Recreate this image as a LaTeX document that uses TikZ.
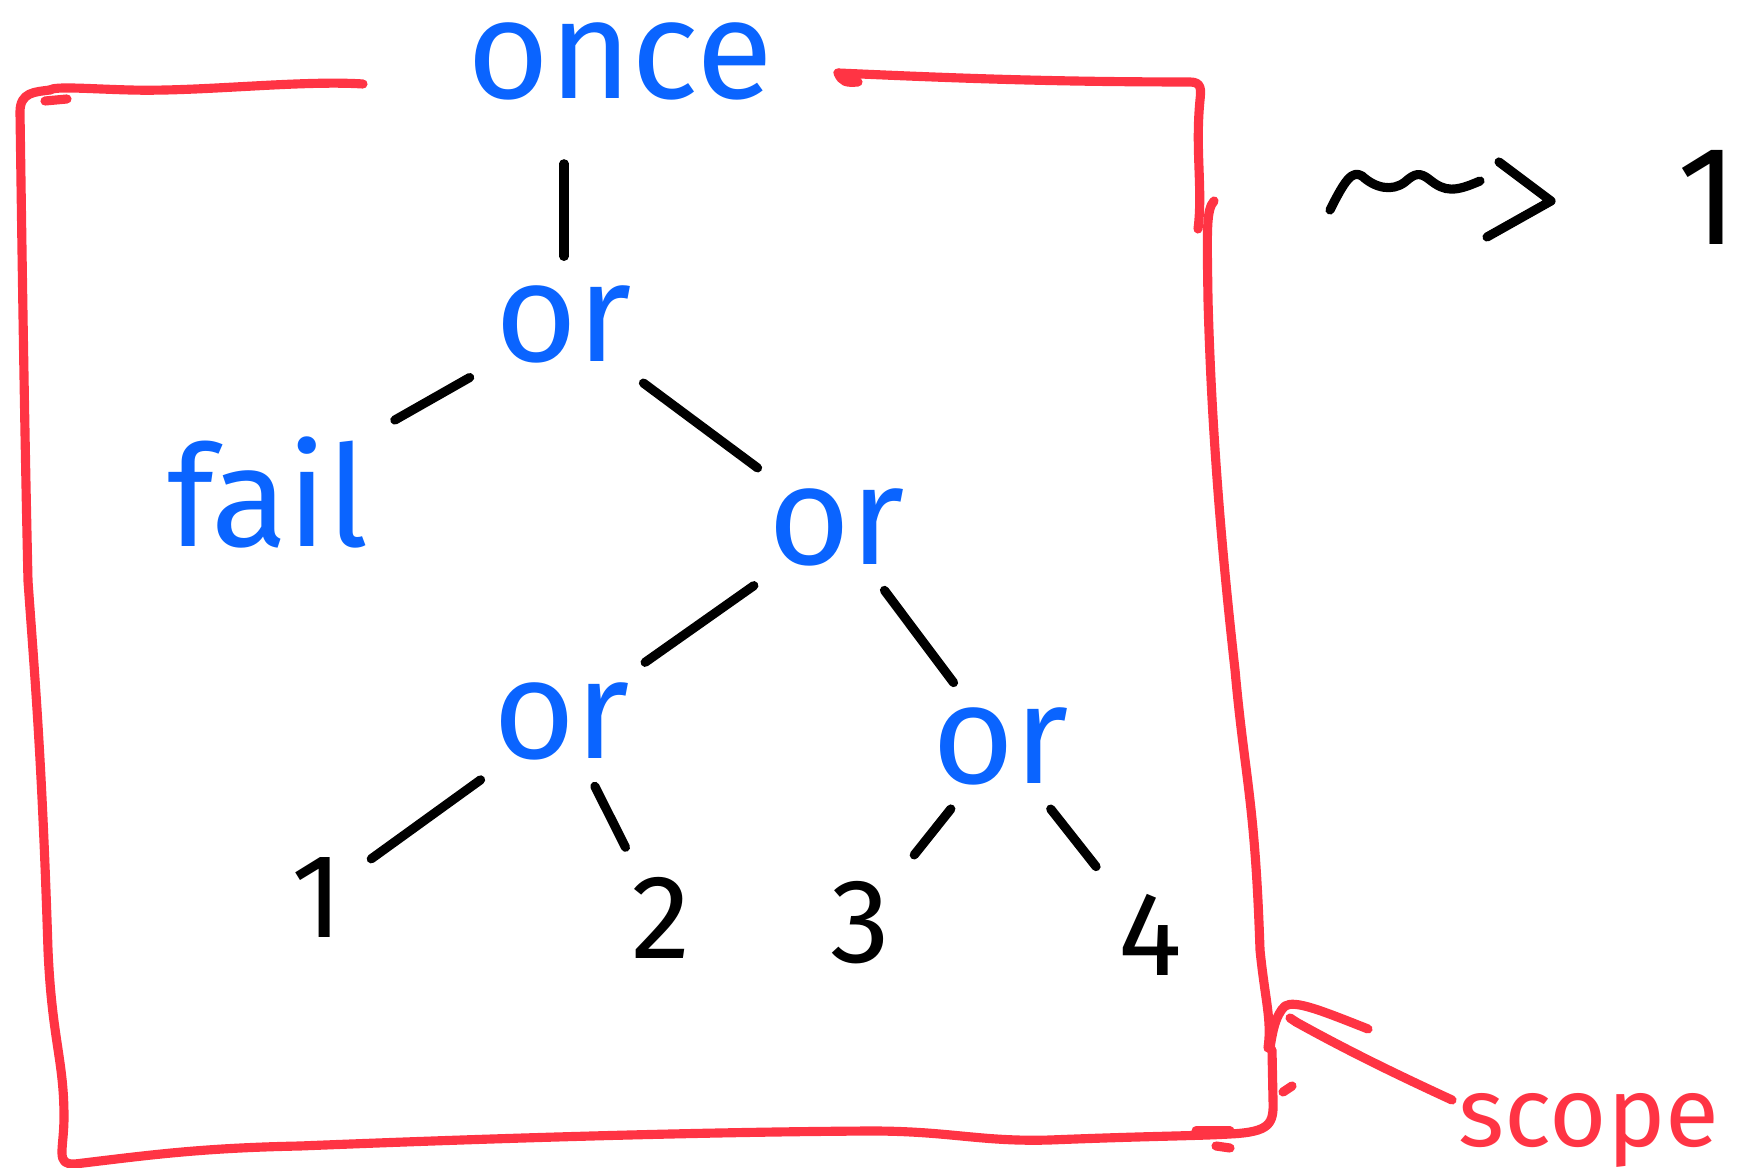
\documentclass[tikz,border=0pt]{standalone}
\usepackage{fontspec}
\setmainfont{Fira Sans}
\definecolor{inkblue}{RGB}{10,100,255}
\definecolor{inkred}{RGB}{255,52,68}
\begin{document}
\begin{tikzpicture}[x=0.01cm,y=-0.01cm,
  pen/.style={line width=2.6pt,line cap=round,line join=round},
  edge/.style={pen,black,shorten <=6pt,shorten >=6pt},
  word/.style={text=inkblue,font=\fontsize{40}{40}\selectfont,inner sep=2pt},
  leaf/.style={text=black,font=\fontsize{34}{34}\selectfont,inner sep=3pt},
  frame/.style={pen,inkred}]
\useasboundingbox (0,0) rectangle (1752,1168);
\clip (0,0) rectangle (1752,1168);

% tree of choices
\node[word] (once) at (620,61) {once};
\node[word] (or1)  at (564,324) {or};
\node[word] (fail) at (268,492) {fail};
\node[word] (or2)  at (837,527) {or};
\node[word] (or3)  at (562,721) {or};
\node[word] (or4)  at (1001,746) {or};
\node[leaf] (n1) at (317,898) {1};
\node[leaf] (n2) at (661,918) {2};
\node[leaf] (n3) at (860,923) {3};
\node[leaf] (n4) at (1150,935) {4};

\draw[edge,shorten >=16pt] (or1.north) -- (once.south -| or1.north);
\draw[edge] (or1) -- (fail);
\draw[edge] (or1) -- (or2);
\draw[edge] (or2) -- (or3);
\draw[edge] (or2) -- (or4);
\draw[edge] (or3) -- (n1);
\draw[edge] (or3) -- (n2);
\draw[edge] (or4) -- (n3);
\draw[edge] (or4) -- (n4);

% result on the right
\node[leaf,font=\fontsize{40}{40}\selectfont] (res) at (1708,197) {1};
\coordinate (wstart) at (1330,210);
\coordinate (wend) at (1480,181);
\coordinate (tip) at (1551,201);
\draw[pen] (wstart) .. controls (1345,180) and (1352,170) .. (1362,176)
  .. controls (1375,188) and (1392,192) .. (1405,182)
  .. controls (1415,173) and (1420,172) .. (1430,180)
  .. controls (1445,192) and (1455,192) .. (wend);
\draw[pen] (1499,162) -- (tip) -- (1487,237);

% scope frame
\draw[frame] (363,84) .. controls (300,80) and (200,92) .. (130,90)
  .. controls (90,89) and (55,86) .. (50,90);
\draw[frame] (45,101) -- (67,99);
\draw[frame] (50,90) .. controls (35,92) and (20,92) .. (20,112)
  .. controls (22,250) and (24,400) .. (28,581)
  .. controls (35,680) and (42,760) .. (48,950)
  .. controls (52,1040) and (64,1060) .. (64,1117)
  .. controls (64,1150) and (55,1165) .. (75,1164)
  .. controls (150,1155) and (200,1148) .. (300,1146)
  .. controls (500,1138) and (700,1132) .. (871,1131)
  .. controls (950,1131) and (980,1142) .. (1050,1140)
  .. controls (1150,1136) and (1196,1136) .. (1230,1134)
  .. controls (1270,1132) and (1274,1124) .. (1273,1100)
  -- (1272,1050);
\draw[frame] (1196,1131) -- (1230,1131);
\draw[frame] (1216,1146) -- (1230,1148);
\draw[frame] (838,73) .. controls (842,82) and (846,83) .. (858,82);
\draw[frame] (838,73) .. controls (950,78) and (1050,82) .. (1190,82)
  .. controls (1202,82) and (1201,90) .. (1200,100)
  .. controls (1195,150) and (1203,190) .. (1198,229);
\draw[frame] (1214,201) .. controls (1206,210) and (1207,230) .. (1208,300)
  .. controls (1212,450) and (1225,580) .. (1235,670)
  .. controls (1245,780) and (1255,800) .. (1260,950)
  .. controls (1265,1000) and (1272,1020) .. (1268,1048);

% pointer to the label
\node[text=inkred,font=\fontsize{28}{28}\selectfont,anchor=base west,inner sep=0pt] (scope) at (1458,1146) {scope};
\coordinate (ptip) at (1296,1022);
\draw[frame] (1452,1100) .. controls (1400,1076) and (1350,1052) .. (ptip);
\draw[frame] (ptip) -- (1290,1018);
\draw[frame] (1368,1029) .. controls (1320,1010) and (1295,1000) .. (1285,1006)
  .. controls (1275,1015) and (1272,1035) .. (1270,1048);
\draw[frame] (1283,1092) -- (1292,1086);
\end{tikzpicture}
\end{document}
